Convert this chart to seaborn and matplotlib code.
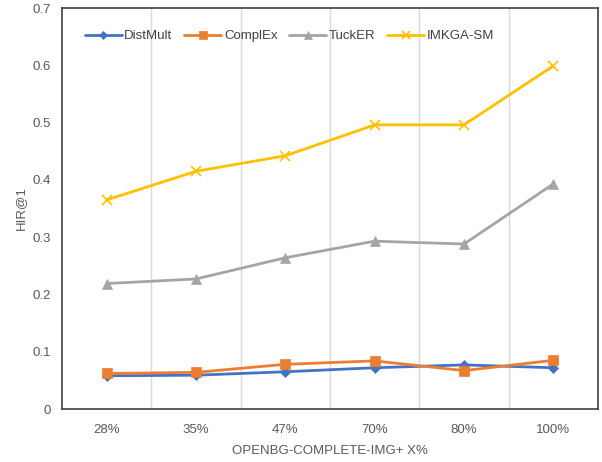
import matplotlib
matplotlib.use("Agg")
import matplotlib.pyplot as plt
import seaborn as sns
import pandas as pd
import numpy as np

categories = ["28%", "35%", "47%", "70%", "80%", "100%"]
distmult = [0.058, 0.059, 0.065, 0.072, 0.077, 0.072]
complex_ = [0.062, 0.064, 0.078, 0.084, 0.067, 0.085]
tucker = [0.219, 0.227, 0.264, 0.293, 0.288, 0.393]
imkga = [0.365, 0.415, 0.442, 0.496, 0.496, 0.599]
series_names = ["DistMult", "ComplEx", "TuckER", "IMKGA-SM"]
series_vals = [distmult, complex_, tucker, imkga]

rows = []
for name, vals in zip(series_names, series_vals):
    for i, v in enumerate(vals):
        rows.append({"pos": i, "model": name, "value": v})
df = pd.DataFrame(rows)

sns.set_style("white")
plt.rcParams["font.family"] = ["Liberation Sans", "DejaVu Sans"]

fig = plt.figure(figsize=(6.02, 4.62), dpi=100)
ax = fig.add_axes([62/602, 53/462, 536/602, 401/462])

palette = {"DistMult": "#4472C4", "ComplEx": "#ED7D31", "TuckER": "#A5A5A5", "IMKGA-SM": "#FFC000"}
markers = {"DistMult": "D", "ComplEx": "s", "TuckER": "^", "IMKGA-SM": "x"}
sizes_m = {"DistMult": 5, "ComplEx": 7, "TuckER": 7, "IMKGA-SM": 7}

for name in series_names:
    sub = df[df.model == name]
    sns.lineplot(data=sub, x="pos", y="value", ax=ax, color=palette[name], marker=markers[name],
                 markersize=sizes_m[name], linewidth=2.0, label=name,
                 markeredgecolor=palette[name], markeredgewidth=1.2 if name == "IMKGA-SM" else 0.5)

ax.set_xlim(-0.5, 5.5)
ax.set_ylim(0, 0.7)
ax.set_xticks(range(len(categories)))
ax.set_xticklabels(categories)
ax.set_xticks(np.arange(0.5, 5.5, 1.0), minor=True)
ax.xaxis.grid(True, which="minor", color="#D9D9D9", linewidth=1)
ax.xaxis.grid(False, which="major")
ax.yaxis.grid(False)
ax.set_yticks(np.arange(0, 0.71, 0.1))
ax.set_yticklabels(["0", "0.1", "0.2", "0.3", "0.4", "0.5", "0.6", "0.7"])
ax.tick_params(axis="both", which="both", length=0, labelsize=9.5, colors="#595959", pad=8)
ax.tick_params(axis="x", pad=11)
for s in ax.spines.values():
    s.set_color("#404040")
    s.set_linewidth(1.2)
ax.set_xlabel("OPENBG-COMPLETE-IMG+ X%", fontsize=9.5, color="#595959", labelpad=6)
ax.set_ylabel("HIR@1", fontsize=9.5, color="#595959", labelpad=4)

leg = ax.legend(loc="upper left", ncol=4, frameon=False, fontsize=9.5, bbox_to_anchor=(0.02, 0.975),
                handlelength=2.8, columnspacing=0.9, handletextpad=0.2, labelcolor="#404040",
                markerscale=0.8)

fig.savefig("out.png", dpi=100)
